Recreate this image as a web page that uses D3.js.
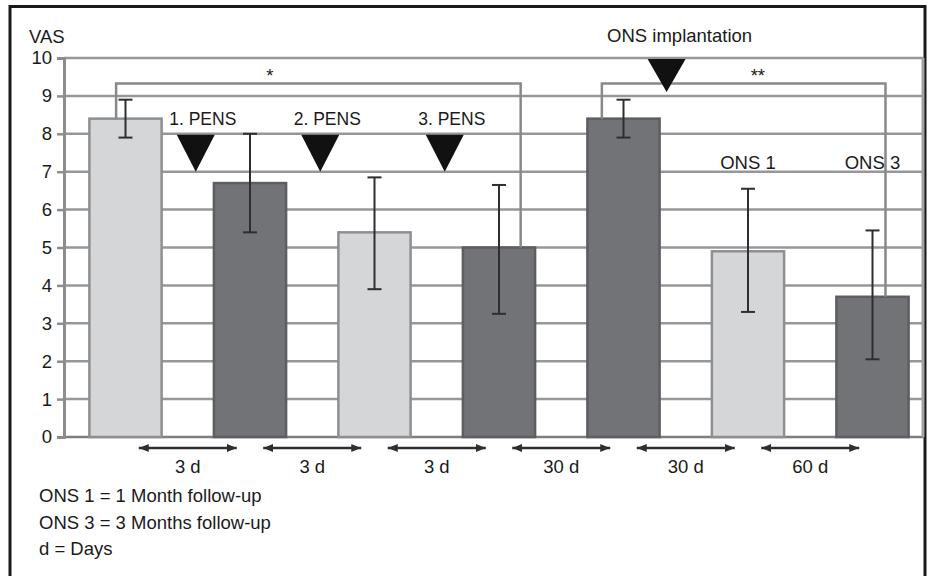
<!DOCTYPE html>
<html>
<head>
<meta charset="utf-8">
<script src="https://cdn.jsdelivr.net/npm/d3@7"></script>
<style>
  html, body { margin: 0; padding: 0; background: #fff; }
  svg { display: block; font-family: "Liberation Sans", Arial, sans-serif; }
</style>
</head>
<body>
<svg id="chart" width="934" height="576"></svg>
<script>
// VAS scores across the stimulation phases
const categories = ["Baseline", "1. PENS", "2. PENS", "3. PENS", "Pre-ONS", "ONS 1", "ONS 3"];
const vasMean = [8.4, 6.7, 5.4, 5.0, 8.4, 4.9, 3.7];
const vasLow  = [7.9, 5.4, 3.9, 3.25, 7.9, 3.3, 2.05];
const vasHigh = [8.9, 8.0, 6.85, 6.65, 8.9, 6.55, 5.45];
const yTicks = [0, 1, 2, 3, 4, 5, 6, 7, 8, 9, 10];
const intervalLabels = ["3 d", "3 d", "3 d", "30 d", "30 d", "60 d"];
const pensLabels = ["1. PENS", "2. PENS", "3. PENS"];
const footnotes = ["ONS 1 = 1 Month follow-up", "ONS 3 = 3 Months follow-up", "d = Days"];

const svg = d3.select("#chart");
const plotLeft = 64, plotRight = 923, plotTop = 58, plotBottom = 437;
const fs = "18.5px";

const x = d3.scaleBand().domain(categories)
  .range([63.25, 934.75]).paddingInner(0.42).paddingOuter(0.21);
const y = d3.scaleLinear().domain([0, 10]).range([plotBottom, plotTop]);
const shade = d3.scaleOrdinal().domain(categories)
  .range(["#d5d6d8", "#727377", "#d5d6d8", "#727377", "#727377", "#d5d6d8", "#727377"]);
const edge = d3.scaleOrdinal().domain(["#d5d6d8", "#727377"]).range(["#8e8f92", "#5d5e61"]);

// outer frame (open at the bottom)
svg.append("path")
  .attr("d", "M10,576 L10,6.5 L925,6.5 L925,576")
  .attr("fill", "none").attr("stroke", "#1a1a1a").attr("stroke-width", 3);

// horizontal grid
svg.append("g")
  .selectAll("line").data(yTicks).join("line")
  .attr("x1", plotLeft).attr("x2", plotRight)
  .attr("y1", d => y(d)).attr("y2", d => y(d))
  .attr("stroke", d => d === 0 ? "#7d7e80" : "#96979a").attr("stroke-width", 2.5);

// right border of the plot area
svg.append("line").attr("x1", plotRight).attr("x2", plotRight)
  .attr("y1", y(10)).attr("y2", y(0))
  .attr("stroke", "#a0a1a3").attr("stroke-width", 3);

// y axis
const yAxis = svg.append("g").attr("transform", `translate(${plotLeft},0)`)
  .call(d3.axisLeft(y).tickValues(yTicks).tickSize(7).tickPadding(5).tickFormat(d3.format("d")));
yAxis.select(".domain").attr("stroke", "#8c8d8f").attr("stroke-width", 3);
yAxis.selectAll(".tick line").attr("stroke", "#8c8d8f").attr("stroke-width", 2.5);
yAxis.selectAll(".tick text").attr("fill", "#1a1a1a")
  .style("font-size", fs).style("font-family", "'Liberation Sans', Arial, sans-serif");

svg.append("text").attr("x", 29).attr("y", 43).text("VAS")
  .attr("fill", "#1a1a1a").style("font-size", fs);

// bars
svg.append("g").selectAll("rect").data(categories).join("rect")
  .attr("x", d => x(d)).attr("width", x.bandwidth())
  .attr("y", (d, i) => y(vasMean[i])).attr("height", (d, i) => y(0) - y(vasMean[i]))
  .attr("fill", d => shade(d)).attr("stroke", d => edge(shade(d))).attr("stroke-width", 2.5);

// significance brackets
const bracketTop = 9.33;
function bracket(a, fa, b, fb, label, labelPos) {
  const xa = x(categories[a]) + x.bandwidth() * fa;
  const xb = x(categories[b]) + x.bandwidth() * fb;
  svg.append("path")
    .attr("d", `M${xa},${y(vasMean[a])} V${y(bracketTop)} H${xb} V${y(vasMean[b])}`)
    .attr("fill", "none").attr("stroke", "#88898b").attr("stroke-width", 2.5);
  svg.append("text").attr("x", xa + (xb - xa) * labelPos).attr("y", y(bracketTop) - 1)
    .attr("text-anchor", "middle").attr("fill", "#1a1a1a").style("font-size", fs)
    .text(label);
}
bracket(0, 0.37, 3, 0.8, "*", 0.38);
bracket(4, 0.2, 6, 0.68, "**", 0.55);

// error bars
const eb = svg.append("g").attr("stroke", "#2e2e30").attr("stroke-width", 2);
categories.forEach((c, i) => {
  const cx = x(c) + x.bandwidth() / 2;
  eb.append("line").attr("x1", cx).attr("x2", cx).attr("y1", y(vasLow[i])).attr("y2", y(vasHigh[i]));
  [vasLow[i], vasHigh[i]].forEach(v => {
    eb.append("line").attr("x1", cx - 7).attr("x2", cx + 7).attr("y1", y(v)).attr("y2", y(v));
  });
});

// PENS markers between consecutive bars
function triangle(cx, yTop, yTip, w) {
  svg.append("path")
    .attr("d", `M${cx - w / 2},${yTop} L${cx + w / 2},${yTop} L${cx},${yTip} Z`)
    .attr("fill", "#111");
}
pensLabels.forEach((lab, k) => {
  const mid = (x(categories[k]) + x(categories[k + 1]) + x.bandwidth()) / 2;
  triangle(mid + 8, y(8) + 1, y(7), 38);
  svg.append("text").attr("x", mid + 15).attr("y", y(8) - 9)
    .attr("text-anchor", "middle").attr("fill", "#1a1a1a").style("font-size", "17.5px").text(lab);
});

// ONS implantation marker
{
  const right5 = x(categories[4]) + x.bandwidth();
  triangle(right5 + 7, y(10) + 1, y(9.1), 38);
  svg.append("text").attr("x", right5 + 20).attr("y", 42)
    .attr("text-anchor", "middle").attr("fill", "#1a1a1a").style("font-size", fs)
    .text("ONS implantation");
}

// follow-up labels
["ONS 1", "ONS 3"].forEach(c => {
  svg.append("text").attr("x", x(c) + x.bandwidth() / 2).attr("y", y(7) - 3)
    .attr("text-anchor", "middle").attr("fill", "#1a1a1a").style("font-size", fs).text(c);
});

// interval arrows between consecutive visits
const arrowY = 448, arrowLen = 98;
const defs = svg.append("defs");
["start", "end"].forEach(k => {
  defs.append("marker").attr("id", "arr-" + k)
    .attr("viewBox", "0 0 10 8").attr("refX", k === "end" ? 10 : 0).attr("refY", 4)
    .attr("markerWidth", 10).attr("markerHeight", 8).attr("markerUnits", "userSpaceOnUse")
    .attr("orient", "auto")
    .append("path").attr("d", k === "end" ? "M0,0 L10,4 L0,8 Z" : "M10,0 L0,4 L10,8 Z")
    .attr("fill", "#2e2e30");
});
intervalLabels.forEach((lab, k) => {
  const mid = (x(categories[k]) + x(categories[k + 1]) + x.bandwidth()) / 2;
  svg.append("line").attr("x1", mid - arrowLen / 2).attr("x2", mid + arrowLen / 2)
    .attr("y1", arrowY).attr("y2", arrowY)
    .attr("stroke", "#2e2e30").attr("stroke-width", 2.5)
    .attr("marker-start", "url(#arr-start)").attr("marker-end", "url(#arr-end)");
  svg.append("text").attr("x", mid).attr("y", 473)
    .attr("text-anchor", "middle").attr("fill", "#1a1a1a").style("font-size", fs).text(lab);
});

// footnotes
svg.append("g").selectAll("text").data(footnotes).join("text")
  .attr("x", 39).attr("y", (d, i) => 502 + i * 26.5)
  .attr("fill", "#1a1a1a").style("font-size", fs).text(d => d);
</script>
</body>
</html>
